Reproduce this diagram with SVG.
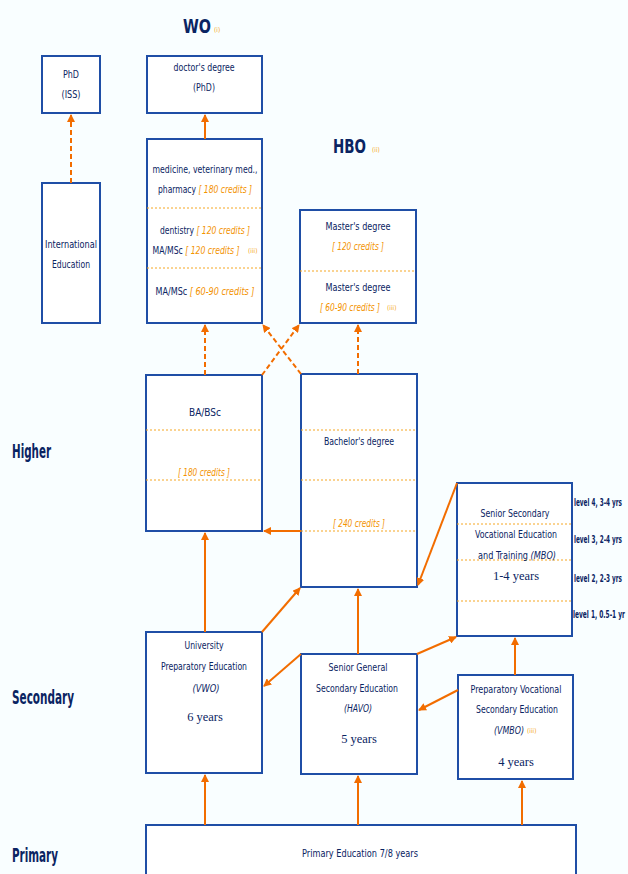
<svg xmlns="http://www.w3.org/2000/svg" width="628" height="874" viewBox="0 0 628 874">
<style>
.bg{fill:#f9feff}
.box{fill:#ffffff;stroke:#1f4ea6;stroke-width:2}
.div{stroke:#f5a623;stroke-width:1;stroke-dasharray:2,2;fill:none}
.t{font-family:"DejaVu Sans Condensed","Liberation Sans",sans-serif;font-size:10.5px;fill:#0a2462;text-anchor:middle}
.c{fill:#f39200;font-style:italic}
.s{font-family:"Liberation Serif",serif;font-size:12.5px;fill:#0a2462;text-anchor:middle}
.h{font-family:"DejaVu Sans Condensed","Liberation Sans",sans-serif;font-size:19px;font-weight:bold;fill:#0a2462}
.sm{font-family:"DejaVu Sans Condensed",sans-serif;font-size:6.5px;fill:#f5a623}
.lv{font-family:"DejaVu Sans Condensed","Liberation Sans",sans-serif;font-size:10px;font-weight:bold;fill:#0a2462}
.a{stroke:#f26d00;stroke-width:2;fill:none;marker-end:url(#ah)}
.d{stroke-dasharray:5,3}
</style>
<defs>
<marker id="ah" markerWidth="8" markerHeight="8" refX="7" refY="4" orient="auto" markerUnits="userSpaceOnUse">
<path d="M0,0 L8,4 L0,8 z" fill="#f26d00"/>
</marker>
</defs>
<rect class="bg" x="0" y="0" width="628" height="874"/>

<g id="labels">
<text class="h" x="183" y="33" textLength="28" lengthAdjust="spacingAndGlyphs">WO</text><text class="sm" x="214" y="32">(i)</text>
<text class="h" x="333" y="153" textLength="33" lengthAdjust="spacingAndGlyphs">HBO</text><text class="sm" x="372" y="152">(ii)</text>
<text class="h" x="12" y="458" textLength="39" lengthAdjust="spacingAndGlyphs">Higher</text>
<text class="h" x="12" y="704" textLength="62" lengthAdjust="spacingAndGlyphs">Secondary</text>
<text class="h" x="12" y="862" textLength="46" lengthAdjust="spacingAndGlyphs">Primary</text>
</g>

<g id="phd">
<rect class="box" x="42" y="56" width="58" height="57"/>
<text class="t" x="71" y="78" textLength="16" lengthAdjust="spacingAndGlyphs">PhD</text>
<text class="t" x="71" y="98" textLength="19" lengthAdjust="spacingAndGlyphs">(ISS)</text>
</g>

<g id="doctor">
<rect class="box" x="147" y="56" width="115" height="57"/>
<text class="t" x="204" y="71" textLength="61" lengthAdjust="spacingAndGlyphs">doctor's degree</text>
<text class="t" x="204" y="91" textLength="22" lengthAdjust="spacingAndGlyphs">(PhD)</text>
</g>

<g id="intl">
<rect class="box" x="42" y="183" width="58" height="140"/>
<text class="t" x="71" y="248" textLength="52" lengthAdjust="spacingAndGlyphs">International</text>
<text class="t" x="71" y="268" textLength="38" lengthAdjust="spacingAndGlyphs">Education</text>
</g>

<g id="wo-master">
<rect class="box" x="147" y="139" width="115" height="184"/>
<line class="div" x1="147" y1="208" x2="262" y2="208"/>
<line class="div" x1="147" y1="268" x2="262" y2="268"/>
<text class="t" x="205" y="173" textLength="105" lengthAdjust="spacingAndGlyphs">medicine, veterinary med.,</text>
<text class="t" x="205" y="193" textLength="94" lengthAdjust="spacingAndGlyphs">pharmacy <tspan class="c">[ 180 credits ]</tspan></text>
<text class="t" x="205" y="234" textLength="90" lengthAdjust="spacingAndGlyphs">dentistry <tspan class="c">[ 120 credits ]</tspan></text>
<text class="t" x="196" y="254" textLength="87" lengthAdjust="spacingAndGlyphs">MA/MSc <tspan class="c">[ 120 credits ]</tspan></text><text class="sm" x="248" y="253">(iii)</text>
<text class="t" x="205" y="295" textLength="99" lengthAdjust="spacingAndGlyphs">MA/MSc <tspan class="c">[ 60-90 credits ]</tspan></text>
</g>

<g id="hbo-master">
<rect class="box" x="300" y="210" width="116" height="113"/>
<line class="div" x1="300" y1="271" x2="416" y2="271"/>
<text class="t" x="358" y="230" textLength="65" lengthAdjust="spacingAndGlyphs">Master's degree</text>
<text class="t c" x="358" y="250" textLength="52" lengthAdjust="spacingAndGlyphs">[ 120 credits ]</text>
<text class="t" x="358" y="291" textLength="65" lengthAdjust="spacingAndGlyphs">Master's degree</text>
<text class="t c" x="350" y="311" textLength="60" lengthAdjust="spacingAndGlyphs">[ 60-90 credits ]</text><text class="sm" x="387" y="310">(iii)</text>
</g>

<g id="ba">
<rect class="box" x="146" y="375" width="116" height="156"/>
<line class="div" x1="146" y1="430" x2="262" y2="430"/>
<line class="div" x1="146" y1="480" x2="262" y2="480"/>
<text class="t" x="205" y="416" textLength="32" lengthAdjust="spacingAndGlyphs">BA/BSc</text>
<text class="t c" x="204" y="476" textLength="52" lengthAdjust="spacingAndGlyphs">[ 180 credits ]</text>
</g>

<g id="bachelor">
<rect class="box" x="301" y="374" width="116" height="213"/>
<line class="div" x1="301" y1="430" x2="417" y2="430"/>
<line class="div" x1="301" y1="480" x2="417" y2="480"/>
<line class="div" x1="301" y1="531" x2="417" y2="531"/>
<text class="t" x="359" y="445" textLength="70" lengthAdjust="spacingAndGlyphs">Bachelor's degree</text>
<text class="t c" x="359" y="527" textLength="52" lengthAdjust="spacingAndGlyphs">[ 240 credits ]</text>
</g>

<g id="mbo">
<rect class="box" x="457" y="483" width="115" height="153"/>
<line class="div" x1="457" y1="524" x2="572" y2="524"/>
<line class="div" x1="457" y1="560" x2="572" y2="560"/>
<line class="div" x1="457" y1="601" x2="572" y2="601"/>
<text class="t" x="515" y="517" textLength="69" lengthAdjust="spacingAndGlyphs">Senior Secondary</text>
<text class="t" x="516" y="538" textLength="82" lengthAdjust="spacingAndGlyphs">Vocational Education</text>
<text class="t" x="517" y="559" textLength="78" lengthAdjust="spacingAndGlyphs">and Training <tspan font-style="italic">(MBO)</tspan></text>
<text class="s" x="516" y="580">1-4 years</text>
<text class="lv" x="574" y="506" textLength="48" lengthAdjust="spacingAndGlyphs">level 4, 3-4 yrs</text>
<text class="lv" x="574" y="543" textLength="48" lengthAdjust="spacingAndGlyphs">level 3, 2-4 yrs</text>
<text class="lv" x="574" y="582" textLength="48" lengthAdjust="spacingAndGlyphs">level 2, 2-3 yrs</text>
<text class="lv" x="573" y="618" textLength="52" lengthAdjust="spacingAndGlyphs">level 1, 0.5-1 yr</text>
</g>

<g id="vwo">
<rect class="box" x="146" y="632" width="116" height="141"/>
<text class="t" x="204" y="649" textLength="39" lengthAdjust="spacingAndGlyphs">University</text>
<text class="t" x="204" y="670" textLength="86" lengthAdjust="spacingAndGlyphs">Preparatory Education</text>
<text class="t" x="206" y="692" font-style="italic" textLength="27" lengthAdjust="spacingAndGlyphs">(VWO)</text>
<text class="s" x="205" y="721">6 years</text>
</g>

<g id="havo">
<rect class="box" x="301" y="654" width="116" height="120"/>
<text class="t" x="358" y="671" textLength="59" lengthAdjust="spacingAndGlyphs">Senior General</text>
<text class="t" x="357" y="692" textLength="82" lengthAdjust="spacingAndGlyphs">Secondary Education</text>
<text class="t" x="358" y="712" font-style="italic" textLength="28" lengthAdjust="spacingAndGlyphs">(HAVO)</text>
<text class="s" x="359" y="743">5 years</text>
</g>

<g id="vmbo">
<rect class="box" x="458" y="675" width="115" height="104"/>
<text class="t" x="516" y="693" textLength="91" lengthAdjust="spacingAndGlyphs">Preparatory Vocational</text>
<text class="t" x="517" y="713" textLength="82" lengthAdjust="spacingAndGlyphs">Secondary Education</text>
<text class="t" x="509" y="734" font-style="italic" textLength="30" lengthAdjust="spacingAndGlyphs">(VMBO)</text><text class="sm" x="527" y="733">(iii)</text>
<text class="s" x="516" y="766">4 years</text>
</g>

<g id="primary">
<rect class="box" x="146" y="825" width="430" height="60"/>
<text class="t" x="360" y="857" textLength="116" lengthAdjust="spacingAndGlyphs">Primary Education   7/8 years</text>
</g>

<g id="connectors">
<line class="a d" x1="71" y1="183" x2="71" y2="115"/>
<line class="a" x1="205" y1="139" x2="205" y2="115"/>
<line class="a d" x1="205" y1="375" x2="205" y2="325"/>
<line class="a d" x1="358" y1="374" x2="358" y2="325"/>
<line class="a d" x1="262" y1="375" x2="299" y2="325"/>
<line class="a d" x1="301" y1="374" x2="263" y2="325"/>
<line class="a" x1="301" y1="531" x2="264" y2="531"/>
<line class="a" x1="457" y1="483" x2="418" y2="585"/>
<line class="a" x1="205" y1="632" x2="205" y2="533"/>
<line class="a" x1="262" y1="632" x2="300" y2="588"/>
<line class="a" x1="358" y1="654" x2="358" y2="589"/>
<line class="a" x1="301" y1="654" x2="264" y2="686"/>
<line class="a" x1="417" y1="654" x2="456" y2="637"/>
<line class="a" x1="515" y1="675" x2="515" y2="638"/>
<line class="a" x1="458" y1="690" x2="419" y2="710"/>
<line class="a" x1="205" y1="825" x2="205" y2="775"/>
<line class="a" x1="358" y1="825" x2="358" y2="776"/>
<line class="a" x1="522" y1="825" x2="522" y2="781"/>
</g>
</svg>
